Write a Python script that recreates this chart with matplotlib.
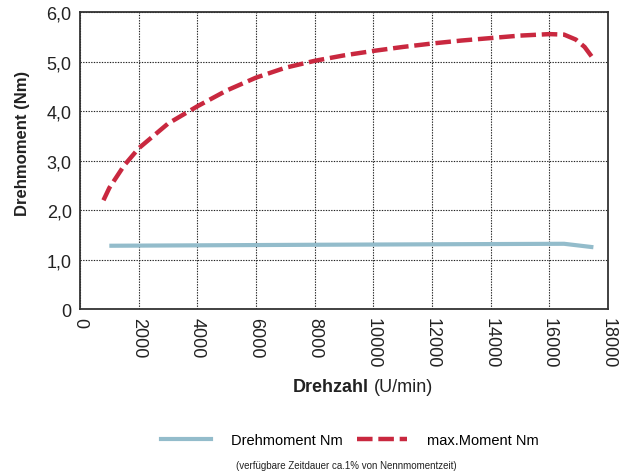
import matplotlib
matplotlib.use("Agg")
import matplotlib.pyplot as plt
from matplotlib.lines import Line2D

plt.rcParams['font.family'] = ['Liberation Sans', 'DejaVu Sans']

# Data
rpm_max = [800, 1000, 1500, 2000, 3000, 4000, 5000, 6000, 7000, 8000, 9000,
           10000, 11000, 12000, 13000, 14000, 15000, 16000, 16500, 16900, 17200, 17550]
moment_max = [2.2, 2.45, 2.9, 3.25, 3.75, 4.1, 4.42, 4.68, 4.88, 5.02, 5.13,
              5.22, 5.3, 5.37, 5.43, 5.48, 5.53, 5.56, 5.55, 5.45, 5.3, 5.02]
rpm_nenn = [1000, 8000, 16500, 17500]
moment_nenn = [1.28, 1.3, 1.32, 1.25]

xticks = [0, 2000, 4000, 6000, 8000, 10000, 12000, 14000, 16000, 18000]
yticks = [0, 1, 2, 3, 4, 5, 6]
ytick_labels = ["0", "1,0", "2,0", "3,0", "4,0", "5,0", "6,0"]

blue = "#93bccb"
red = "#c9283f"

fig = plt.figure(figsize=(6.22, 4.77), dpi=100)
ax = fig.add_axes([0.1286, 0.35, 0.849, 0.622])

ax.plot(rpm_nenn, moment_nenn, color=blue, lw=3, solid_capstyle='butt')
ax.plot(rpm_max, moment_max, color=red, lw=3.2, dashes=(3.5, 1.3))

ax.set_xlim(0, 18000)
ax.set_ylim(0, 6)
ax.set_xticks(xticks)
ax.set_xticklabels([str(v) for v in xticks], rotation=270, ha='center', fontsize=13, color="#222222")
ax.set_yticks(yticks)
ax.set_yticklabels(ytick_labels, fontsize=13, color="#222222")
ax.tick_params(length=0, pad=6)
ax.grid(True, color="#222222", linestyle=(0, (1.2, 1.2)), linewidth=0.8)
for s in ax.spines.values():
    s.set_color("#333333")
    s.set_linewidth(1.3)

ax.set_ylabel("Drehmoment (Nm)", fontsize=12, fontweight='bold', color="#222222")
ax.yaxis.set_label_coords(-0.095, 0.56)

fig.text(0.593, 0.188, "Drehzahl", fontsize=13, fontweight='bold', ha='right', va='center', color="#222222")
fig.text(0.601, 0.188, "(U/min)", fontsize=13, ha='left', va='center', color="#222222")

handles = [Line2D([], [], color=blue, lw=3),
           Line2D([], [], color=red, lw=3.2, dashes=(3.5, 1.3))]
fig.legend(handles, ["Drehmoment Nm", "max.Moment Nm"], loc='center',
           bbox_to_anchor=(0.563, 0.075), ncol=2, frameon=False, fontsize=10.5,
           handlelength=3.4, handletextpad=1.4, columnspacing=1.0)
fig.text(0.556, 0.023, "(verfügbare Zeitdauer ca.1% von Nennmomentzeit)", fontsize=7,
         ha='center', va='center', color="#222222")

fig.savefig("out.png", dpi=100)
